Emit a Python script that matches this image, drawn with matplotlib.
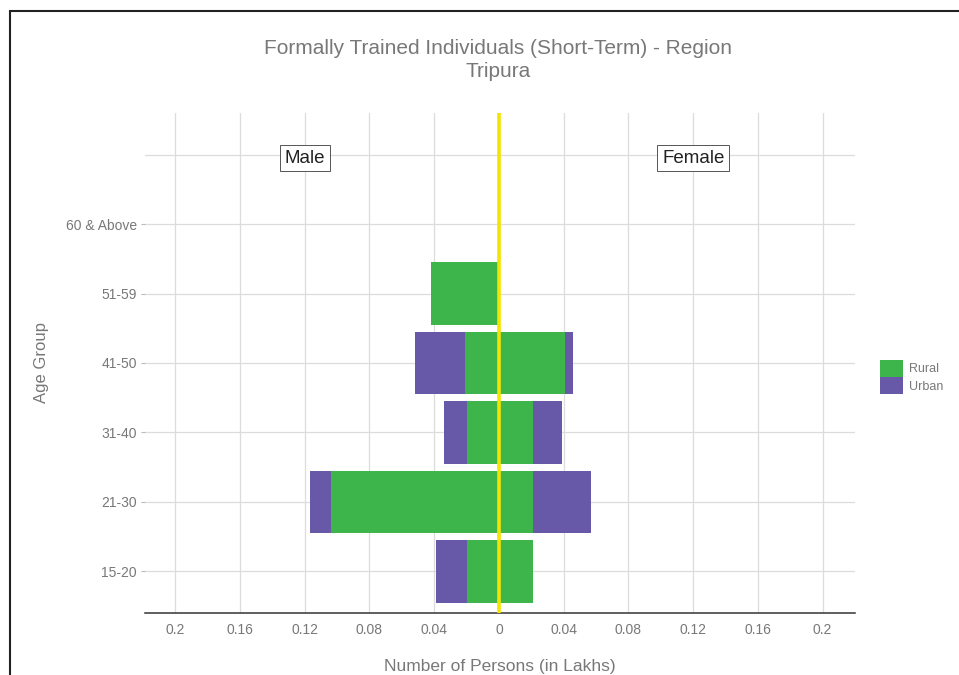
import numpy as np
import matplotlib
matplotlib.use("Agg")
from matplotlib import pyplot as plt
from matplotlib.patches import Patch, Rectangle

plt.rcParams['font.family'] = ['Liberation Sans', 'DejaVu Sans']

# age groups bottom to top
age_groups = ["15-20", "21-30", "31-40", "41-50", "51-59", "60 & Above"]

# number of persons (in lakhs)
male_rural = [0.020, 0.104, 0.020, 0.021, 0.042, 0.0]
male_urban = [0.019, 0.013, 0.014, 0.031, 0.0, 0.0]
female_rural = [0.021, 0.021, 0.021, 0.041, 0.0, 0.0]
female_urban = [0.0, 0.036, 0.018, 0.005, 0.0, 0.0]

xticks = [-0.2, -0.16, -0.12, -0.08, -0.04, 0, 0.04, 0.08, 0.12, 0.16, 0.2]
xtick_labels = ["0.2", "0.16", "0.12", "0.08", "0.04", "0", "0.04", "0.08", "0.12", "0.16", "0.2"]

green = "#3db54a"
purple = "#6759a8"
grey_txt = "#787878"
grid_col = "#dcdcdc"

fig = plt.figure(figsize=(9.59, 6.75), dpi=100)
ax = fig.add_axes([0.1512, 0.0919, 0.7404, 0.7407])

y = np.arange(len(age_groups))
mr = np.array(male_rural)
mu = np.array(male_urban)
fr = np.array(female_rural)
fu = np.array(female_urban)

h = 0.9
ax.barh(y, -mr, height=h, left=0, color=green, zorder=3)
ax.barh(y, -mu, height=h, left=-mr, color=purple, zorder=3)
ax.barh(y, fr, height=h, left=0, color=green, zorder=3)
ax.barh(y, fu, height=h, left=fr, color=purple, zorder=3)

ax.axvline(0, color="#f5e400", lw=2.6, zorder=4)

ax.set_xlim(-0.2187, 0.22)
ax.set_ylim(-0.6, 6.6)
ax.set_xticks(xticks)
ax.set_xticklabels(xtick_labels)
ax.set_yticks(y)
ax.set_yticklabels(age_groups)

ax.grid(True, color=grid_col, lw=0.9, zorder=0)
ax.axhline(6, color=grid_col, lw=0.9, zorder=0)
ax.set_axisbelow(True)

for s in ["top", "right", "left"]:
    ax.spines[s].set_visible(False)
ax.spines["bottom"].set_color("#333333")
ax.spines["bottom"].set_linewidth(1.1)

ax.tick_params(axis="x", length=0, pad=7, labelsize=10, labelcolor=grey_txt)
ax.tick_params(axis="y", length=3, color="#bbbbbb", pad=3, labelsize=10, labelcolor=grey_txt)

ax.set_xlabel("Number of Persons (in Lakhs)", fontsize=12.5, color=grey_txt, labelpad=16)
ax.set_ylabel("Age Group", fontsize=12, color=grey_txt, labelpad=12)

fig.text(0.519, 0.911, "Formally Trained Individuals (Short-Term) - Region\nTripura",
         ha="center", va="center", fontsize=15, color=grey_txt, linespacing=1.3)

box = dict(boxstyle="square,pad=0.25", fc="white", ec="#555555", lw=0.7)
ax.text(-0.12, 5.95, "Male", ha="center", va="center", fontsize=13.5, color="#222222", bbox=box, zorder=5)
ax.text(0.12, 5.95, "Female", ha="center", va="center", fontsize=13.5, color="#222222", bbox=box, zorder=5)

handles = [Patch(facecolor=green, edgecolor="none"), Patch(facecolor=purple, edgecolor="none")]
ax.legend(handles, ["Rural", "Urban"], loc="center left", bbox_to_anchor=(1.035, 0.472),
          frameon=False, fontsize=9, labelcolor=grey_txt, handlelength=1.85, handleheight=1.75,
          labelspacing=0, handletextpad=0.5, borderaxespad=0, borderpad=0)

# outer frame (top and left edges visible)
fig.patches.append(Rectangle((10 / 959, -0.1), 1.2, 1.1 - 11 / 675, transform=fig.transFigure,
                             fill=False, ec="#222222", lw=1.5))

fig.savefig("out.png", dpi=100)
